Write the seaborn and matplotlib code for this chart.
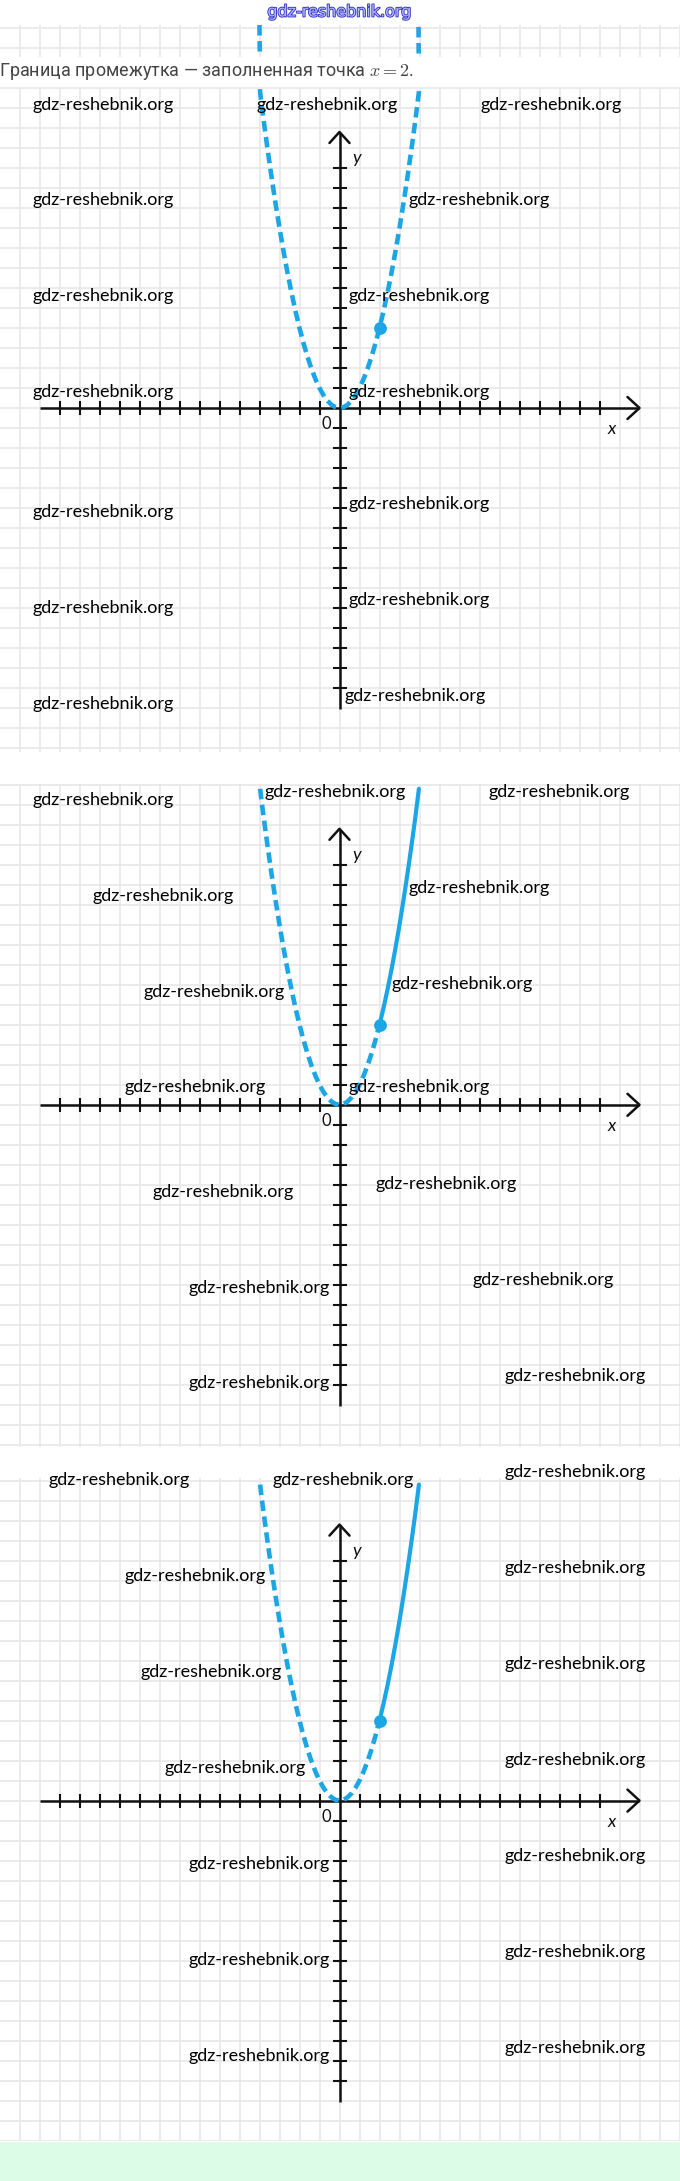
import matplotlib
matplotlib.use('Agg')
import matplotlib.pyplot as plt
import matplotlib.patheffects as pe
from matplotlib.patches import Rectangle
import seaborn as sns

sns.set_style('white')
plt.rcParams['font.family'] = ['Lato', 'DejaVu Sans']
plt.rcParams['mathtext.fontset'] = 'cm'

# ---------------- data ----------------
# dashed parabola y = x^2, left branch down to the vertex and up to the point x = 2
branch_x = [-3.97, -3.9, -3.8, -3.6, -3.4, -3.2, -3.0, -2.8, -2.6, -2.4, -2.2, -2.0,
            -1.8, -1.6, -1.4, -1.2, -1.0, -0.8, -0.6, -0.4, -0.2, 0.0,
            0.2, 0.4, 0.6, 0.8, 1.0, 1.2, 1.4, 1.6, 1.8, 2.0]
branch_y = [15.8, 15.2, 14.44, 12.96, 11.56, 10.24, 9.0, 7.84, 6.76, 5.76, 4.84, 4.0,
            3.24, 2.56, 1.96, 1.44, 1.0, 0.64, 0.36, 0.16, 0.04, 0.0,
            0.04, 0.16, 0.36, 0.64, 1.0, 1.44, 1.96, 2.56, 3.24, 4.0]
# right part x >= 2
right_x = [2.0, 2.2, 2.4, 2.6, 2.8, 3.0, 3.2, 3.4, 3.6, 3.8, 3.97]
right_y = [4.0, 4.84, 5.76, 6.76, 7.84, 9.0, 10.24, 11.56, 12.96, 14.44, 15.8]
# extra tops of the curve in the first (taller) panel
top1_left = (-4.0, 19.15)
top1_right = (3.95, 19.15)
# boundary point
point_x = [2.0]
point_y = [4.0]

x_ticks = [k for k in range(-14, 14) if k != 0]
y_ticks = [k for k in range(-14, 13) if k != 0]
WM = 'gdz-reshebnik.org'
TITLE = 'Граница промежутка — заполненная точка $x = 2$.'

# ---------------- layout ----------------
W, H = 680, 2181
UNIT = 20.0
BLUE = '#1ca6e6'
INK = '#111111'

fig = plt.figure(figsize=(W / 100, H / 100), dpi=100)
fig.patch.set_facecolor('white')

panels = [
    dict(top=25, bottom=752, ox=339.5, oy=408.0, mode='dashed',
         wm=[(103, 105), (327, 105), (551, 105), (103, 200), (479, 200),
             (103, 296), (419, 296), (103, 392), (419, 392),
             (103, 512), (419, 504), (103, 608), (419, 600), (103, 704), (415, 696)]),
    dict(top=784, bottom=1447, ox=339.5, oy=1104.8, mode='half',
         wm=[(103, 800), (335, 792), (559, 792), (163, 896), (479, 888),
             (214, 992), (462, 984), (195, 1087), (419, 1087),
             (223, 1192), (446, 1184), (259, 1288), (543, 1280),
             (259, 1383), (575, 1376)]),
    dict(top=1478, bottom=2141, ox=339.5, oy=1800.6, mode='half',
         wm=[(119, 1480), (343, 1480), (575, 1472), (195, 1576), (575, 1568),
             (211, 1672), (575, 1664), (235, 1768), (575, 1760),
             (259, 1864), (575, 1856), (259, 1960), (575, 1952),
             (259, 2056), (575, 2048)]),
]

for p in panels:
    ax = fig.add_axes([0, 1 - p['bottom'] / H, 1, (p['bottom'] - p['top']) / H])
    x0, x1 = (0 - p['ox']) / UNIT, (W - p['ox']) / UNIT
    y0, y1 = (p['oy'] - p['bottom']) / UNIT, (p['oy'] - p['top']) / UNIT
    ax.set_xticks([k for k in range(-17, 18) if x0 <= k <= x1])
    ax.set_yticks([k for k in range(-18, 21) if y0 <= k <= y1])
    ax.set_xlim(x0, x1)
    ax.set_ylim(y0, y1)
    ax.grid(True, color='#e9e9e9', lw=1.3)
    ax.set_axisbelow(True)
    ax.tick_params(length=0, labelbottom=False, labelleft=False)
    for s in ax.spines.values():
        s.set_visible(False)
    ax.set_facecolor('white')

    # coordinate axes
    ax.plot([-15, 14.95], [0, 0], color=INK, lw=1.8, solid_capstyle='butt', zorder=3)
    ax.plot([14.4, 15.0, 14.4], [0.55, 0, -0.55], color=INK, lw=1.8, zorder=3)
    ax.plot([0, 0], [-15.05, 13.75], color=INK, lw=1.8, solid_capstyle='butt', zorder=3)
    ax.plot([-0.5, 0, 0.5], [13.25, 13.8, 13.25], color=INK, lw=1.8, zorder=3)
    ax.plot(x_ticks, [0] * len(x_ticks), ls='none', marker='|', ms=9.5, mew=1.5,
            color=INK, zorder=3)
    ax.plot([0] * len(y_ticks), y_ticks, ls='none', marker='_', ms=9.5, mew=1.5,
            color=INK, zorder=3)
    ax.text(-0.65, -0.8, '0', fontsize=12, ha='center', va='center', color=INK)
    ax.text(13.6, -1.05, 'x', fontsize=13, style='italic', ha='center', va='center',
            color=INK)
    ax.text(0.85, 12.5, 'y', fontsize=13, style='italic', ha='center', va='center',
            color=INK)

    # curve
    if p['mode'] == 'dashed':
        cx = [top1_left[0]] + branch_x + right_x[1:] + [top1_right[0]]
        cy = [top1_left[1]] + branch_y + right_y[1:] + [top1_right[1]]
        sns.lineplot(x=cx, y=cy, sort=False, estimator=None, ax=ax, color=BLUE,
                     lw=3.3, linestyle=(0, (2.3, 1.2)), zorder=4)
    else:
        sns.lineplot(x=branch_x, y=branch_y, sort=False, estimator=None, ax=ax,
                     color=BLUE, lw=3.3, linestyle=(0, (2.3, 1.2)), zorder=4)
        sns.lineplot(x=right_x, y=right_y, sort=False, estimator=None, ax=ax,
                     color=BLUE, lw=3.0, zorder=4)
    sns.scatterplot(x=point_x, y=point_y, ax=ax, color=BLUE, s=85, linewidth=0,
                    zorder=5)
    ax.set_xlim(x0, x1)
    ax.set_ylim(y0, y1)

    for (wx, wy) in p['wm']:
        fig.text(wx / W, 1 - wy / H, WM, fontsize=13, ha='center', va='center',
                 color='#000000', zorder=6)

# white band behind the title
fig.patches.append(Rectangle((0, 1 - 87 / H), 1, 30 / H, transform=fig.transFigure,
                             facecolor='white', edgecolor='none', zorder=2))
fig.text(-1 / W, 1 - 72 / H, TITLE, fontsize=13, ha='left', va='center',
         color='#444444', family=['Roboto', 'DejaVu Sans'], zorder=7)

# link at the top
fig.text(0.5, 1 - 12 / H, WM, fontsize=11.5, ha='center', va='center', color='#b4b8f2',
         family=['Liberation Sans Narrow', 'DejaVu Sans'], zorder=7,
         path_effects=[pe.withStroke(linewidth=1.3, foreground='#3434c4')])

# green band at the bottom
fig.patches.append(Rectangle((0, 0), 1, (H - 2142) / H, transform=fig.transFigure,
                             facecolor='#dcfce8', edgecolor='none', zorder=2))

fig.savefig('out.png', dpi=100, facecolor='white')
